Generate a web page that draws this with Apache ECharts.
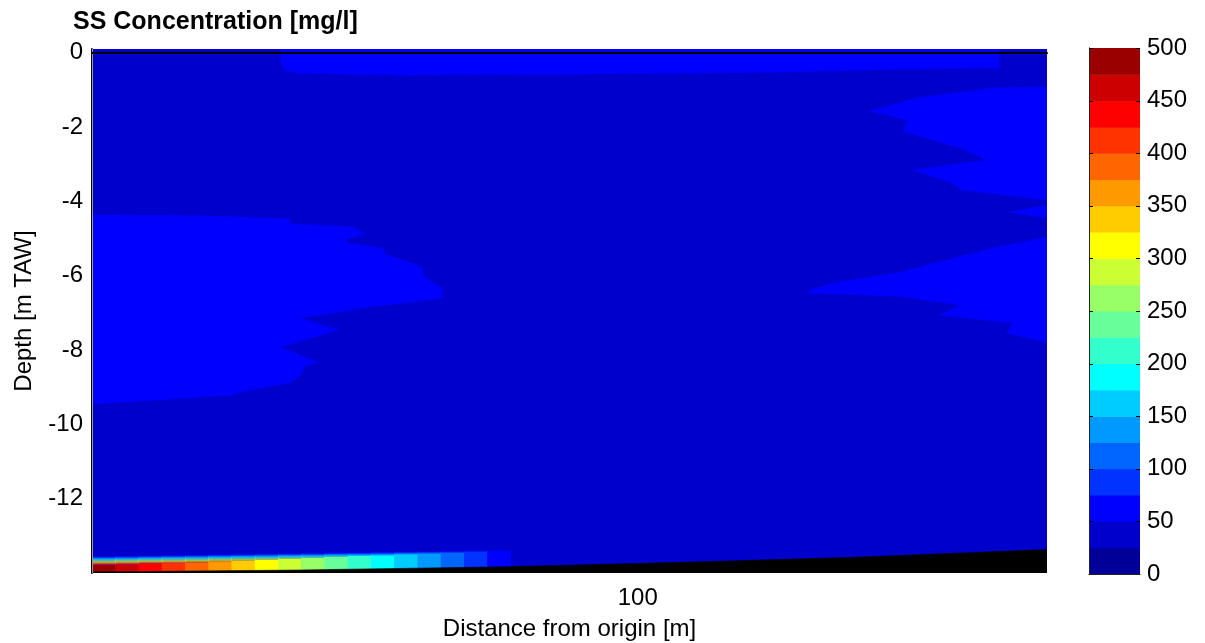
<!DOCTYPE html>
<html>
<head>
<meta charset="utf-8">
<script src="https://cdn.jsdelivr.net/npm/echarts@6/dist/echarts.min.js"></script>
<style>
html,body{margin:0;padding:0;background:#fff;}
#chart{width:1205px;height:643px;}
</style>
</head>
<body>
<div id="chart"></div>
<script>
// ---- contour levels & colours (jet, 20 bands) ----
const levels = [0,25,50,75,100,125,150,175,200,225,250,275,300,325,350,375,400,425,450,475,500];
const bandColors = ['#000099','#0000CC','#0000FF','#0033FF','#0066FF','#0099FF','#00CCFF','#00FFFF','#33FFCC','#66FF99',
                    '#99FF66','#CCFF33','#FFFF00','#FFCC00','#FF9900','#FF6600','#FF3300','#FF0000','#CC0000','#990000'];
const colorbarTicks = [0,50,100,150,200,250,300,350,400,450,500];

// ---- axes ----
const xLimits = [0, 175];
const depthLimits = [-14, 0.1];
const xTicks = [100];
const depthTicks = [0,-2,-4,-6,-8,-10,-12];

// ---- field values (mg/l) ----
const ambientValue = 40;   // bulk of the section
const patchValue = 60;     // lighter patches

// surface strip
const topStripX     = [34.6, 166.2, 166.2, 148.1, 126.1, 93.1, 56.4, 38.1, 35.4, 34.6];
const topStripDepth = [0.1, 0.1, -0.41, -0.44, -0.52, -0.57, -0.60, -0.55, -0.47, -0.25];

// left mid-depth patch
const leftPatchX     = [0, 19.8, 31.3, 36.3, 36.3, 47.8, 50.0, 46.7, 46.7, 53.3, 53.7, 57.0, 60.5, 60.7, 61.9, 64.1, 64.3,
                        50.9, 38.1, 45.1, 34.5, 41.2, 38.7, 38.5, 36.7, 27.1, 25.8, 0];
const leftPatchDepth = [-4.37, -4.39, -4.45, -4.47, -4.61, -4.69, -4.88, -5.01, -5.12, -5.26, -5.42, -5.58, -5.77, -6.01, -6.14, -6.33, -6.60,
                        -6.84, -7.14, -7.46, -7.92, -8.32, -8.46, -8.62, -8.86, -9.13, -9.21, -9.45];

// right upper patch
const rightUpperX     = [175, 165.1, 151.2, 142.6, 149.5, 148.6, 154.1, 159.1, 164.0, 150.4, 157.2, 159.4, 175];
const rightUpperDepth = [-0.92, -0.95, -1.22, -1.57, -1.81, -2.11, -2.35, -2.56, -2.89, -3.16, -3.48, -3.69, -3.96];

// right small wedge
const rightWedgeX     = [175, 168.2, 175];
const rightWedgeDepth = [-4.10, -4.29, -4.45];

// right lower patch
const rightLowerX     = [175, 165.1, 156.7, 147.5, 135.8, 131.9, 131.0, 148.1, 159.1, 155.4, 168.8, 167.7, 175];
const rightLowerDepth = [-4.96, -5.26, -5.58, -5.93, -6.20, -6.38, -6.46, -6.55, -6.79, -7.06, -7.27, -7.54, -7.79];

// near-bed layer (per column)
const nearBedEdges = [0, 4.26, 8.52, 12.78, 17.04, 21.30, 25.56, 29.82, 34.08, 38.34, 42.60, 46.86, 51.12, 55.38, 59.64, 63.90, 68.16, 72.42, 76.68];
const nearBedValues = [490, 462, 437, 412, 387, 362, 337, 312, 287, 262, 237, 212, 187, 162, 137, 112, 87, 62];
const nearBedTopDepth   = [-13.54,-13.53,-13.52,-13.51,-13.50,-13.49,-13.48,-13.47,-13.46,-13.45,-13.44,-13.43,-13.42,-13.41,-13.40,-13.39,-13.38,-13.37];
const nearBedSolidDepth = [-13.81,-13.79,-13.76,-13.74,-13.72,-13.69,-13.67,-13.65,-13.62,-13.60,-13.57,-13.55,-13.53,-13.50,-13.48,-13.46,-13.43,-13.41];

// bed line
const bedX     = [0, 38.1, 76.6, 111.4, 138.9, 175];
const bedDepth = [-13.97, -13.92, -13.83, -13.70, -13.58, -13.37];

// ---- helpers ----
function bandIndex(v) {
  for (let k = 0; k < levels.length - 1; k++) {
    if (v >= levels[k] && v < levels[k + 1]) return k;
  }
  return levels.length - 2;
}
function colorOf(v) { return bandColors[bandIndex(v)]; }

const polygons = [
  { x: [xLimits[0], xLimits[1], xLimits[1], xLimits[0]], d: [depthLimits[1], depthLimits[1], depthLimits[0], depthLimits[0]], fill: colorOf(ambientValue) },
  { x: topStripX, d: topStripDepth, fill: colorOf(patchValue) },
  { x: leftPatchX, d: leftPatchDepth, fill: colorOf(patchValue) },
  { x: rightUpperX, d: rightUpperDepth, fill: colorOf(patchValue) },
  { x: rightWedgeX, d: rightWedgeDepth, fill: colorOf(patchValue) },
  { x: rightLowerX, d: rightLowerDepth, fill: colorOf(patchValue) }
];
const bedPolygon = { x: bedX.concat([xLimits[1], xLimits[0]]), d: bedDepth.concat([depthLimits[0], depthLimits[0]]), fill: '#000000' };

function polygonItem(p, api) {
  const pts = p.x.map((x, j) => api.coord([x, p.d[j]]));
  return { type: 'polygon', shape: { points: pts }, style: { fill: p.fill, stroke: p.fill, lineWidth: 0.6 } };
}

const FONT = 'Liberation Sans, Arial, sans-serif';

const chart = echarts.init(document.getElementById('chart'), null, { renderer: 'canvas' });

const option = {
  backgroundColor: '#ffffff',
  animation: false,
  title: {
    text: 'SS Concentration [mg/l]',
    left: 73, top: 10, padding: 0,
    textStyle: { fontFamily: FONT, fontSize: 25, fontWeight: 'bold', color: '#000' }
  },
  grid: [
    { left: 92, top: 49, width: 955, height: 524, outerBoundsMode: 'none', containLabel: false },
    { left: 1089, top: 48, width: 51, height: 526, outerBoundsMode: 'none', containLabel: false }
  ],
  xAxis: [
    { gridIndex: 0, type: 'value', min: xLimits[0], max: xLimits[1], interval: 100, position: 'bottom', z: 10,
      name: 'Distance from origin [m]', nameLocation: 'middle', nameGap: 44,
      nameTextStyle: { fontFamily: FONT, fontSize: 24, color: '#000' },
      axisLine: { show: true, lineStyle: { color: '#888', width: 1 } },
      axisTick: { show: false }, splitLine: { show: false },
      axisLabel: { fontFamily: FONT, fontSize: 24, color: '#000', margin: 13,
        formatter: v => xTicks.some(t => Math.abs(t - v) < 1e-6) ? String(v) : '' } },
    { gridIndex: 0, type: 'value', min: xLimits[0], max: xLimits[1], position: 'top', z: 10,
      axisLine: { show: true, lineStyle: { color: '#000', width: 2 } },
      axisTick: { show: false }, axisLabel: { show: false }, splitLine: { show: false } },
    { gridIndex: 1, type: 'value', min: 0, max: 1, position: 'bottom', z: 10,
      axisLine: { show: true, lineStyle: { color: '#888', width: 1 } },
      axisTick: { show: false }, axisLabel: { show: false }, splitLine: { show: false } },
    { gridIndex: 1, type: 'value', min: 0, max: 1, position: 'top', z: 10,
      axisLine: { show: true, lineStyle: { color: '#222', width: 1 } },
      axisTick: { show: false }, axisLabel: { show: false }, splitLine: { show: false } }
  ],
  yAxis: [
    { gridIndex: 0, type: 'value', min: depthLimits[0], max: depthLimits[1], interval: 2, position: 'left', z: 10,
      name: 'Depth [m TAW]', nameLocation: 'middle', nameGap: 56, nameRotate: 90,
      nameTextStyle: { fontFamily: FONT, fontSize: 24, color: '#000' },
      axisLine: { show: true, lineStyle: { color: '#000', width: 2 } },
      axisTick: { show: false }, splitLine: { show: false },
      axisLabel: { fontFamily: FONT, fontSize: 24, color: '#000', margin: 9,
        formatter: v => depthTicks.some(t => Math.abs(t - v) < 1e-6) ? String(Math.round(v)) : '' } },
    { gridIndex: 0, type: 'value', min: depthLimits[0], max: depthLimits[1], position: 'right', z: 10,
      axisLine: { show: true, lineStyle: { color: '#999', width: 1 } },
      axisTick: { show: false }, axisLabel: { show: false }, splitLine: { show: false } },
    { gridIndex: 1, type: 'value', min: 0, max: 500, interval: 50, position: 'right', z: 10,
      axisLine: { show: true, lineStyle: { color: '#888', width: 1 } },
      axisTick: { show: false },
      splitLine: { show: false },
      axisLabel: { fontFamily: FONT, fontSize: 24, color: '#000', margin: 7,
        formatter: v => colorbarTicks.includes(v) ? String(v) : '' } },
    { gridIndex: 1, type: 'value', min: 0, max: 500, interval: 50, position: 'left', z: 10,
      axisLine: { show: true, lineStyle: { color: '#222', width: 1 } },
      axisTick: { show: false }, axisLabel: { show: false }, splitLine: { show: false } }
  ],
  series: [
    { type: 'custom', name: 'field', xAxisIndex: 0, yAxisIndex: 0, clip: true, z: 1, silent: true,
      data: polygons.map((p, i) => [p.x[0], p.d[0], i]),
      renderItem: (params, api) => polygonItem(polygons[params.dataIndex], api) },
    { type: 'custom', name: 'nearBed', xAxisIndex: 0, yAxisIndex: 0, clip: true, z: 2, silent: true,
      data: nearBedValues.map((v, i) => [nearBedEdges[i], v, i]),
      renderItem: (params, api) => {
        const i = params.dataIndex;
        const v = nearBedValues[i];
        const x0 = nearBedEdges[i], x1 = nearBedEdges[i + 1];
        const dT = nearBedTopDepth[i], dS = nearBedSolidDepth[i];
        const depthAt = L => dT + (L - levels[1]) / (v - levels[1]) * (dS - dT);
        const kv = bandIndex(v);
        const children = [];
        const rect = (dUp, dLow, color) => {
          const a = api.coord([x0, dUp]);
          const b = api.coord([x1, dLow]);
          children.push({ type: 'rect', shape: { x: a[0], y: a[1], width: b[0] - a[0] + 0.6, height: b[1] - a[1] },
                          style: { fill: color } });
        };
        for (let k = 2; k < kv; k++) rect(depthAt(levels[k]), depthAt(levels[k + 1]), bandColors[k]);
        rect(depthAt(levels[kv]), depthLimits[0], bandColors[kv]);
        return { type: 'group', children };
      } },
    { type: 'custom', name: 'bed', xAxisIndex: 0, yAxisIndex: 0, clip: true, z: 3, silent: true,
      data: [[bedX[0], bedDepth[0]]],
      renderItem: (params, api) => polygonItem(bedPolygon, api) },
    { type: 'custom', name: 'colorbar', xAxisIndex: 2, yAxisIndex: 2, z: 1, silent: true,
      data: bandColors.map((c, i) => [0, levels[i], i]),
      renderItem: (params, api) => {
        const i = params.dataIndex;
        const a = api.coord([0, levels[i + 1]]);
        const b = api.coord([1, levels[i]]);
        return { type: 'rect', shape: { x: a[0], y: a[1], width: b[0] - a[0], height: b[1] - a[1] + 0.5 },
                 style: { fill: bandColors[i] } };
      } },
    { type: 'custom', name: 'colorbarTicks', xAxisIndex: 2, yAxisIndex: 2, z: 5, silent: true,
      data: colorbarTicks.map(t => [0, t]),
      renderItem: (params, api) => {
        const t = colorbarTicks[params.dataIndex];
        const a = api.coord([0, t]);
        const b = api.coord([1, t]);
        const y = Math.round(a[1]) + 0.5;
        return { type: 'group', children: [
          { type: 'line', shape: { x1: a[0], y1: y, x2: a[0] + 4, y2: y }, style: { stroke: '#000', lineWidth: 1 } },
          { type: 'line', shape: { x1: b[0] - 4, y1: y, x2: b[0], y2: y }, style: { stroke: '#000', lineWidth: 1 } }
        ] };
      } }
  ]
};
chart.setOption(option);
</script>
</body>
</html>
